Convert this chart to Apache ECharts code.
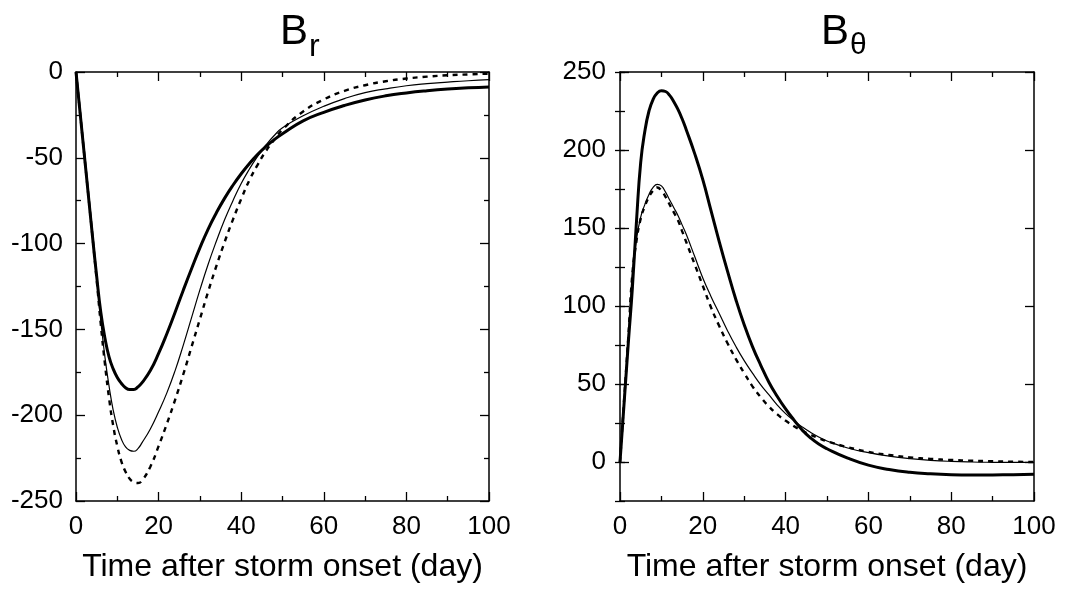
<!DOCTYPE html>
<html>
<head>
<meta charset="utf-8">
<script src="https://cdn.jsdelivr.net/npm/echarts@6/dist/echarts.min.js"></script>
<style>
html,body{margin:0;padding:0;background:#fff;}
#chart{width:1080px;height:590px;}
</style>
</head>
<body>
<div id="chart"></div>
<script>
// ---- data ----
const days = [0,1,2,3,4,5,6,7,8,9,10,11,12,13,14,15,16,18,20,22,24,26,28,30,32,34,36,38,40,42,44,46,48,50,55,60,65,70,75,80,85,90,95,100];

// B_r panel
const brThick  = [0,-24,-48,-72,-96,-119,-140,-155,-166,-173,-178,-181.5,-184,-185,-185,-183.5,-181,
                  -174,-164,-152.5,-140,-127,-114.5,-102.5,-91.5,-82,-73.5,-66,-59.3,-53.3,-48,-43.4,-39.4,-36,
                  -28.5,-23.5,-19.5,-16.3,-13.9,-12.2,-10.9,-9.9,-9.2,-8.7];
const brThin   = [0,-24,-48,-72,-96,-120,-145,-166,-183,-197,-207,-214,-218.5,-220.5,-221,-219.5,-216,
                  -208,-198,-187,-174,-159,-143,-127,-112,-98.5,-86,-75,-65,-56.5,-49,-42.5,-37,-32.5,
                  -25.5,-20,-15.5,-12,-9.8,-8,-6.8,-5.9,-5.1,-4.5];
const brDashed = [0,-24,-48,-72,-96,-121,-147,-170,-190,-206,-218,-227,-233,-237,-239,-239.5,-238,
                  -230,-218,-205,-191,-176,-160,-144,-128,-113,-99,-86,-74,-63,-54,-46,-39.5,-33.5,
                  -23,-16,-11,-7.7,-5.4,-3.8,-2.7,-1.9,-1.4,-1];

// B_theta panel
const bthThick  = [0,38,76,112,155,192,212,225,232.5,236.5,238,237.5,235,231,226,220,213,
                   198,181,161,141,122,104,88,74,62,51,42,34,27,20.5,15.5,11.5,8.5,
                   2.5,-2,-4.8,-6.6,-7.6,-8.2,-8.4,-8.3,-8.1,-7.8];
const bthThin   = [0,40,80,122,143,157,165,171.5,176,178,177,173,168,163,158,152,146,
                   132,118,106,95,84,74,65,57,49.5,43,36.5,31,26.5,22.5,19,16,13.5,
                   9,6,3.8,2.2,1.1,0.4,0,-0.2,-0.3,-0.3];
const bthDashed = [0,40,80,121,142,156,164,170,174,176,174,170,165,160,155,148,141,
                   127,113,99,87,76,66,57,48.5,41.5,35.5,30.5,26.5,23,20,17.5,15.3,13.3,
                   9.5,6.5,4.5,3,2,1.3,0.8,0.5,0.2,0];

const xTicks = [0,20,40,60,80,100];
const brTicks = [-250,-200,-150,-100,-50,0];
const bthTicks = [0,50,100,150,200,250];
const titles = ['B', 'r', 'B', 'θ'];
const xName = 'Time after storm onset (day)';

// ---- chart ----
const FONT = 'Liberation Sans, Arial, Helvetica, sans-serif';
const pairs = (ys) => days.map((d, i) => [d, ys[i]]);

const lineCol = '#000';
const axisLine = {show: true, onZero: false, lineStyle: {color: lineCol, width: 1.5}};
const majorTick = {show: true, inside: true, length: 9, lineStyle: {color: lineCol, width: 1.3}};
const minorTickCfg = {show: true, splitNumber: 2, length: 5, lineStyle: {color: lineCol, width: 1.3}};
const labelCfg = {show: true, fontSize: 26, color: '#000', fontFamily: FONT};

function xAxes(gridIndex) {
  return [
    {type: 'value', gridIndex, position: 'bottom', min: xTicks[0], max: xTicks[xTicks.length-1], interval: xTicks[1]-xTicks[0],
     axisLine, axisTick: majorTick, minorTick: minorTickCfg, splitLine: {show: false},
     axisLabel: Object.assign({}, labelCfg, {margin: 13}),
     name: xName, nameLocation: 'middle', nameGap: 50,
     nameTextStyle: {fontSize: 32, color: '#000', fontFamily: FONT}},
    {type: 'value', gridIndex, position: 'top', min: xTicks[0], max: xTicks[xTicks.length-1], interval: xTicks[1]-xTicks[0],
     axisLine, axisTick: majorTick, minorTick: minorTickCfg, splitLine: {show: false},
     axisLabel: {show: false}}
  ];
}

function titleRich(subSize, subPad) {
  return {rich: {
    b: {fontSize: 42, fontWeight: 'normal', fontFamily: FONT, color: '#000', verticalAlign: 'top', lineHeight: 46},
    s: {fontSize: subSize, fontWeight: 'normal', fontFamily: FONT, color: '#000', verticalAlign: 'top', lineHeight: 32, padding: [subPad, 0, 0, 1]}
  }};
}

function lineSeries(name, xi, yi, ys, style) {
  return {name, type: 'line', xAxisIndex: xi, yAxisIndex: yi, data: pairs(ys),
          showSymbol: false, smooth: 0.5, lineStyle: Object.assign({color: '#000'}, style)};
}

const option = {
  backgroundColor: '#fff',
  animation: false,
  title: [
    {text: '{b|' + titles[0] + '}{s|' + titles[1] + '}', left: 275, top: 6, textStyle: titleRich(32, 20)},
    {text: '{b|' + titles[2] + '}{s|' + titles[3] + '}', left: 816, top: 6, textStyle: titleRich(30, 20)}
  ],
  grid: [
    {left: 76, top: 72, width: 413, height: 429},
    {left: 620, top: 72, width: 414, height: 429}
  ],
  xAxis: [].concat(xAxes(0), xAxes(1)),
  yAxis: [
    // left panel
    {type: 'value', gridIndex: 0, position: 'left', min: brTicks[0], max: brTicks[brTicks.length-1], interval: 50,
     axisLine, axisTick: majorTick, minorTick: minorTickCfg, splitLine: {show: false},
     axisLabel: Object.assign({}, labelCfg, {margin: 13})},
    {type: 'value', gridIndex: 0, position: 'right', min: brTicks[0], max: brTicks[brTicks.length-1], interval: 50,
     axisLine, axisTick: majorTick, minorTick: minorTickCfg, splitLine: {show: false},
     axisLabel: {show: false}},
    // right panel: major ticks/labels at multiples of 50
    {type: 'value', gridIndex: 1, position: 'left', min: -25, max: 250, interval: 25,
     axisLine, axisTick: Object.assign({}, majorTick, {customValues: bthTicks}), splitLine: {show: false},
     axisLabel: Object.assign({}, labelCfg, {margin: 14, customValues: bthTicks})},
    {type: 'value', gridIndex: 1, position: 'right', min: -25, max: 250, interval: 25,
     axisLine, axisTick: Object.assign({}, majorTick, {customValues: bthTicks}), splitLine: {show: false},
     axisLabel: {show: false}},
    // right panel: short ticks every 25
    {type: 'value', gridIndex: 1, position: 'left', min: -25, max: 250, interval: 25,
     axisLine: {show: false}, axisTick: Object.assign({}, majorTick, {length: 5}), splitLine: {show: false},
     axisLabel: {show: false}},
    {type: 'value', gridIndex: 1, position: 'right', min: -25, max: 250, interval: 25,
     axisLine: {show: false}, axisTick: Object.assign({}, majorTick, {length: 5}), splitLine: {show: false},
     axisLabel: {show: false}}
  ],
  series: [
    lineSeries('Br dashed', 0, 0, brDashed, {width: 2.4, type: [5, 5]}),
    lineSeries('Br thin', 0, 0, brThin, {width: 1.2}),
    lineSeries('Br thick', 0, 0, brThick, {width: 3}),
    lineSeries('Bθ dashed', 2, 2, bthDashed, {width: 2.4, type: [5, 5]}),
    lineSeries('Bθ thin', 2, 2, bthThin, {width: 1.2}),
    lineSeries('Bθ thick', 2, 2, bthThick, {width: 3})
  ]
};

const chart = echarts.init(document.getElementById('chart'), null, {renderer: 'canvas'});
chart.setOption(option);
</script>
</body>
</html>
